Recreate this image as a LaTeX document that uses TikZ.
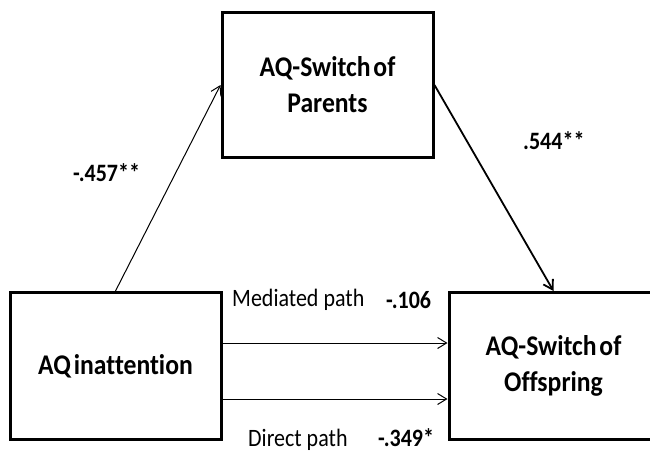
\documentclass[tikz,border=0pt]{standalone}
\usepackage{fontspec}
\setmainfont{Carlito}
\newfontfamily\cfont[FakeStretch=0.88,Ligatures=CommonOff]{Carlito}
\newfontfamily\bfont[FakeStretch=0.9,Ligatures=CommonOff,WordSpace=0.5]{Carlito}
\usetikzlibrary{arrows.meta}
\begin{document}
\begin{tikzpicture}[x=1pt,y=-1pt,
  box/.style={draw, line width=3pt, inner sep=0pt, align=center,
    font=\bfont\fontsize{28.5}{36}\selectfont\bfseries},
  conn/.style={-{Straight Barb[length=9pt,width=11pt,line width=1pt]}, line width=1pt},
  thickconn/.style={-{Straight Barb[length=9pt,width=11pt,line width=1.8pt]}, line width=1.8pt},
  pathlabel/.style={inner sep=0pt, anchor=base west, font=\cfont\fontsize{25}{30}\selectfont},
  coef/.style={inner sep=0pt, anchor=base west, font=\cfont\fontsize{25}{30}\selectfont\bfseries}]
\clip (0,0) rectangle (650,452);
\node[box, minimum width=211pt, minimum height=144pt] (par) at (327.5,85) {AQ-Switch of\\Parents};
\node[box, minimum width=211pt, minimum height=147pt] (inat) at (115.5,366) {AQ inattention};
\node[box, minimum width=209pt, minimum height=147pt] (off) at (553.5,366) {AQ-Switch of\\Offspring};
\coordinate (m1) at (0,343);
\coordinate (m2) at (0,399);
\draw[conn] (inat.north) -- (par.west);
\draw[thickconn] (par.east) -- (off.north);
\draw[conn] (m1 -| inat.east) -- (m1 -| off.west);
\draw[conn] (m2 -| inat.east) -- (m2 -| off.west);
\node[coef] (c1) at (73,181) {-.457**};
\node[coef] (c2) at (523,149) {.544**};
\node[pathlabel] (l1) at (232,306) {Mediated path};
\node[coef] (c3) at (386,308) {-.106};
\node[pathlabel] (l2) at (248,446) {Direct path};
\node[coef] (c4) at (378,446) {-.349*};
\end{tikzpicture}
\end{document}
